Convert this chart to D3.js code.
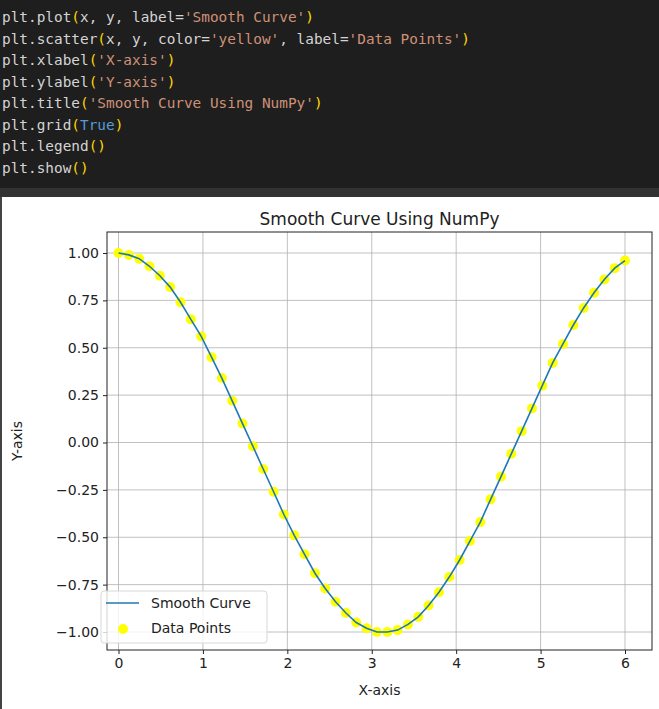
<!DOCTYPE html>
<html><head><meta charset="utf-8">
<script src="https://cdn.jsdelivr.net/npm/d3@7"></script>
<style>
body{margin:0;background:#fff;}
svg{display:block;}
</style></head><body>
<svg id="chart" width="659" height="709"></svg>
<script>
// sample points
var xs = [0,0.122,0.245,0.367,0.490,0.612,0.735,0.857,0.980,1.102,1.224,1.347,1.469,1.592,1.714,1.837,1.959,2.082,2.204,2.327,2.449,2.571,2.694,2.816,2.939,3.061,3.184,3.306,3.429,3.551,3.673,3.796,3.918,4.041,4.163,4.286,4.408,4.531,4.653,4.776,4.898,5.020,5.143,5.265,5.388,5.510,5.633,5.755,5.878,6];
var ys = [1.00,0.99,0.97,0.93,0.88,0.82,0.74,0.65,0.56,0.45,0.34,0.22,0.10,-0.02,-0.14,-0.26,-0.38,-0.49,-0.59,-0.69,-0.77,-0.84,-0.90,-0.95,-0.98,-1.00,-1.00,-0.99,-0.96,-0.92,-0.86,-0.79,-0.71,-0.62,-0.52,-0.42,-0.30,-0.18,-0.06,0.06,0.18,0.30,0.42,0.52,0.62,0.71,0.79,0.86,0.92,0.96];
var xticks = [0,1,2,3,4,5,6];
var yticks = [-1.00,-0.75,-0.50,-0.25,0.00,0.25,0.50,0.75,1.00];
var codeLines = [
  [["plt.plot","t"],["(","p"],["x, y, label=","t"],["'Smooth Curve'","s"],[")","p"]],
  [["plt.scatter","t"],["(","p"],["x, y, color=","t"],["'yellow'","s"],[", label=","t"],["'Data Points'","s"],[")","p"]],
  [["plt.xlabel","t"],["(","p"],["'X-axis'","s"],[")","p"]],
  [["plt.ylabel","t"],["(","p"],["'Y-axis'","s"],[")","p"]],
  [["plt.title","t"],["(","p"],["'Smooth Curve Using NumPy'","s"],[")","p"]],
  [["plt.grid","t"],["(","p"],["True","k"],[")","p"]],
  [["plt.legend","t"],["()","p"]],
  [["plt.show","t"],["()","p"]]
];
var codeColors = {t:"#d4d4d4", p:"#ffd700", s:"#ce9178", k:"#569cd6"};

var svg = d3.select("#chart");

// code cell
svg.append("rect").attr("width",659).attr("height",188).attr("fill","#1e1e1e");
svg.append("rect").attr("y",188).attr("width",659).attr("height",9).attr("fill","#333333");
svg.append("rect").attr("y",197).attr("width",2).attr("height",512).attr("fill","#444");
codeLines.forEach(function(line,i){
  var t = svg.append("text").attr("x",2).attr("y",22+i*21.5)
    .attr("font-family","DejaVu Sans Mono, monospace").attr("font-size",14.4)
    .attr("xml:space","preserve");
  line.forEach(function(seg){
    t.append("tspan").attr("fill",codeColors[seg[1]]).text(seg[0]);
  });
});

// plot
var L=107, R=652, T=232, B=650;
var x = d3.scaleLinear().domain([0,6]).range([118.5,625]);
var y = d3.scaleLinear().domain([-1,1]).range([632,253]);
var font = "DejaVu Sans, sans-serif";
var g = svg.append("g");

g.selectAll(".gx").data(xticks).enter().append("line")
  .attr("x1",d=>x(d)).attr("x2",d=>x(d)).attr("y1",T).attr("y2",B)
  .attr("stroke","#b0b0b0").attr("stroke-width",0.8);
g.selectAll(".gy").data(yticks).enter().append("line")
  .attr("y1",d=>y(d)).attr("y2",d=>y(d)).attr("x1",L).attr("x2",R)
  .attr("stroke","#b0b0b0").attr("stroke-width",0.8);

var line = d3.line().x((d,i)=>x(xs[i])).y(d=>y(d));
g.selectAll(".pt").data(ys).enter().append("circle")
  .attr("cx",(d,i)=>x(xs[i])).attr("cy",d=>y(d)).attr("r",5).attr("fill","#ffff00");
g.append("path").datum(ys).attr("d",line).attr("fill","none")
  .attr("stroke","#1f77b4").attr("stroke-width",1.6);

g.append("rect").attr("x",L).attr("y",T).attr("width",R-L).attr("height",B-T)
  .attr("fill","none").attr("stroke","#222").attr("stroke-width",1);

var xa = svg.append("g").attr("transform","translate(0,"+B+")")
  .call(d3.axisBottom(x).tickValues(xticks).tickSize(4).tickPadding(4).tickFormat(d3.format("d")));
var ya = svg.append("g").attr("transform","translate("+L+",0)")
  .call(d3.axisLeft(y).tickValues(yticks).tickSize(4).tickPadding(4)
    .tickFormat(d=>d3.format(".2f")(d).replace("-","\u2212")));
[xa,ya].forEach(function(a){
  a.select(".domain").remove();
  a.selectAll("text").attr("font-family",font).attr("font-size",14).attr("fill","#222");
  a.selectAll("line").attr("stroke","#222");
});

svg.append("text").attr("x",(L+R)/2).attr("y",225).attr("text-anchor","middle")
  .attr("font-family",font).attr("font-size",17).attr("fill","#222").text("Smooth Curve Using NumPy");
svg.append("text").attr("x",(L+R)/2).attr("y",695).attr("text-anchor","middle")
  .attr("font-family",font).attr("font-size",14).attr("fill","#222").text("X-axis");
svg.append("text").attr("transform","translate(22,"+((T+B)/2)+") rotate(-90)")
  .attr("text-anchor","middle").attr("font-family",font).attr("font-size",14).attr("fill","#222").text("Y-axis");

// legend
var lg = svg.append("g");
lg.append("rect").attr("x",101).attr("y",591).attr("width",166).attr("height",52).attr("rx",3)
  .attr("fill","#fff").attr("fill-opacity",0.8).attr("stroke","#d8d8d8");
lg.append("line").attr("x1",106).attr("x2",139).attr("y1",603).attr("y2",603)
  .attr("stroke","#1f77b4").attr("stroke-width",1.6);
lg.append("circle").attr("cx",123).attr("cy",629).attr("r",5).attr("fill","#ffff00");
lg.append("text").attr("x",151).attr("y",608).attr("font-family",font).attr("font-size",14).attr("fill","#222").text("Smooth Curve");
lg.append("text").attr("x",151).attr("y",633).attr("font-family",font).attr("font-size",14).attr("fill","#222").text("Data Points");
</script>
</body></html>
